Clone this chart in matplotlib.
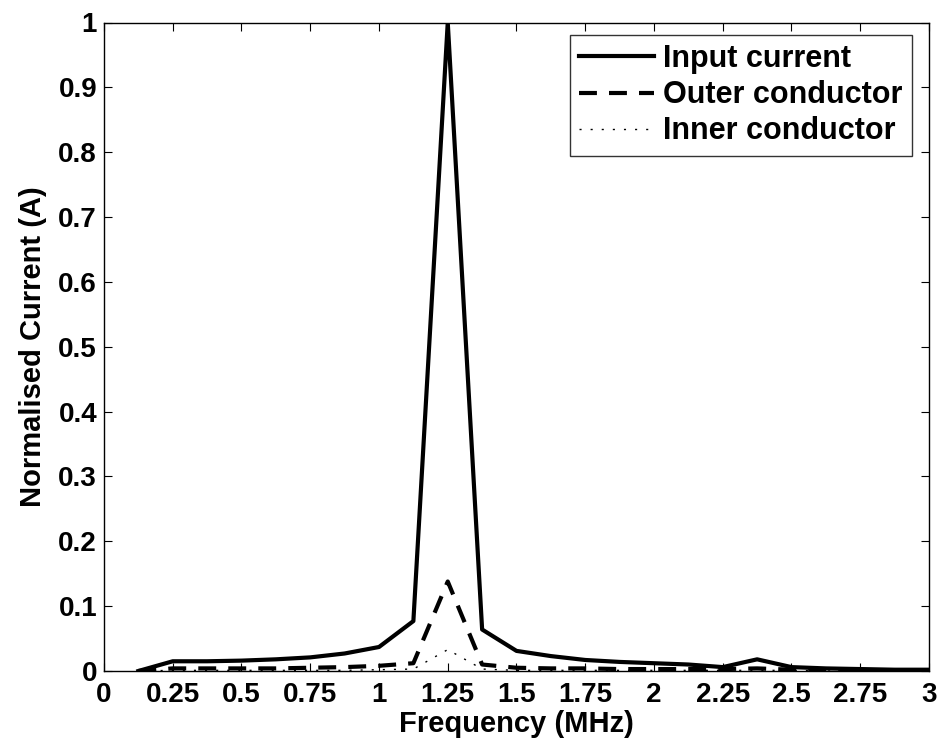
import matplotlib
matplotlib.use("Agg")
import matplotlib.pyplot as plt

freq = [0.125, 0.25, 0.375, 0.5, 0.625, 0.75, 0.875, 1.0, 1.125, 1.25, 1.375, 1.5,
        1.625, 1.75, 1.875, 2.0, 2.125, 2.25, 2.375, 2.5, 2.625, 2.75, 2.875, 3.0]
input_current = [0.0, 0.015, 0.015, 0.016, 0.018, 0.021, 0.027, 0.037, 0.077, 1.0, 0.064, 0.031,
                 0.023, 0.017, 0.014, 0.012, 0.010, 0.006, 0.018, 0.006, 0.004, 0.003, 0.002, 0.002]
outer_conductor = [0.0, 0.004, 0.004, 0.004, 0.004, 0.005, 0.006, 0.008, 0.012, 0.138, 0.010, 0.005,
                   0.004, 0.004, 0.003, 0.003, 0.003, 0.003, 0.004, 0.002, 0.002, 0.001, 0.001, 0.001]
inner_conductor = [0.0, 0.001, 0.001, 0.001, 0.001, 0.001, 0.001, 0.002, 0.003, 0.033, 0.003, 0.001,
                   0.001, 0.001, 0.001, 0.001, 0.001, 0.001, 0.001, 0.001, 0.0, 0.0, 0.0, 0.0]
xticks = [0, 0.25, 0.5, 0.75, 1, 1.25, 1.5, 1.75, 2, 2.25, 2.5, 2.75, 3]
xticklabels = ["0", "0.25", "0.5", "0.75", "1", "1.25", "1.5", "1.75", "2", "2.25", "2.5", "2.75", "3"]
yticks = [0, 0.1, 0.2, 0.3, 0.4, 0.5, 0.6, 0.7, 0.8, 0.9, 1]
yticklabels = ["0", "0.1", "0.2", "0.3", "0.4", "0.5", "0.6", "0.7", "0.8", "0.9", "1"]

plt.rcParams['font.family'] = ['Liberation Sans', 'DejaVu Sans']
plt.rcParams['font.weight'] = 'bold'

fig = plt.figure(figsize=(9.4, 7.51), dpi=100)
ax = fig.add_axes([104/940, 1-671/751, (929-104)/940, (671-22.5)/751])

ax.plot(freq, input_current, color='black', lw=3, label='Input current')
ax.plot(freq, outer_conductor, color='black', lw=3, dashes=(4.3, 2.9), label='Outer conductor')
ax.plot(freq, inner_conductor, color='black', lw=1.0, dashes=(1.5, 6.5), label='Inner conductor')

ax.set_xlim(0, 3)
ax.set_ylim(0, 1)
ax.set_xticks(xticks)
ax.set_xticklabels(xticklabels)
ax.set_yticks(yticks)
ax.set_yticklabels(yticklabels)
ax.tick_params(direction='in', top=True, right=True, length=6, width=0.8, labelsize=20)
ax.tick_params(axis='x', pad=8)
ax.tick_params(axis='y', pad=5)
for s in ax.spines.values():
    s.set_linewidth(1.0)

ax.set_xlabel('Frequency (MHz)', fontsize=21, fontweight='bold', labelpad=1)
ax.set_ylabel('Normalised Current (A)', fontsize=21, fontweight='bold', labelpad=8)

leg = ax.legend(loc='upper right', bbox_to_anchor=((912-104)/825, (671-35)/648.5),
                fontsize=22, frameon=True, fancybox=False,
                edgecolor='black', handlelength=2.45, handletextpad=0.3,
                borderpad=0.3, labelspacing=0.2, borderaxespad=0.0)
leg.get_frame().set_linewidth(1.0)
for t in leg.get_texts():
    t.set_fontweight('bold')

fig.savefig('out.png', dpi=100)
